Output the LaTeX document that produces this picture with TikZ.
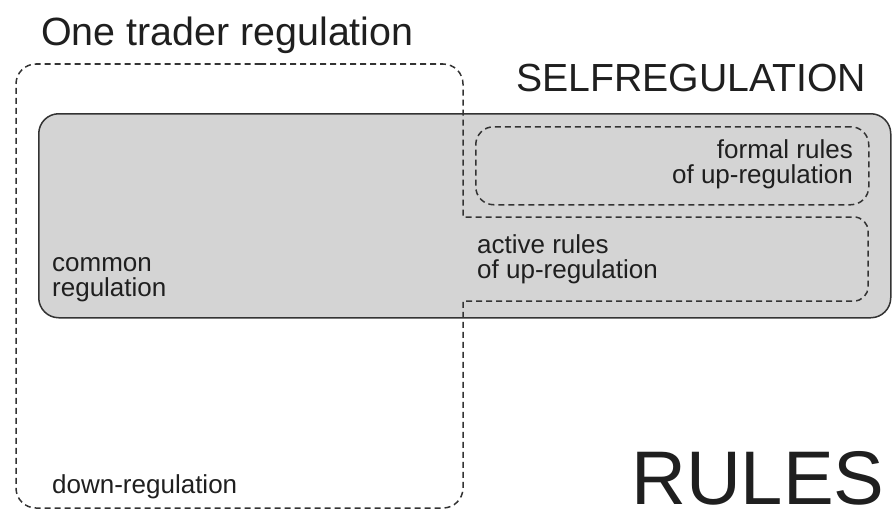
\documentclass[tikz,border=0pt]{standalone}
\usepackage{fontspec}
\setmainfont{Liberation Sans}
\usetikzlibrary{positioning}

\tikzset{
  region/.style={draw=black!80, line width=1.5pt, dash pattern=on 6pt off 4pt},
  selfbox/.style={draw=black!80, line width=1.5pt, fill=black!17,
    rounded corners=20pt, inner sep=0pt, anchor=north west},
  setlabel/.style={inner sep=0pt, text=black!88, align=left,
    font=\fontsize{26}{25}\selectfont},
  biglabel/.style={inner sep=0pt, text=black!88, anchor=base west}
}

\begin{document}
\begin{tikzpicture}[x=1pt, y=-1pt]
  \useasboundingbox (0,0) rectangle (896,511);

  % ── Self-regulation: the grey box ────────────────────────────
  \node[selfbox, minimum width=852pt, minimum height=204pt]
    (self) at (38,113) {};

  % ── Formal rules of up-regulation ────────────────────────────
  \node[region, rounded corners=18pt, inner sep=0pt, anchor=north west,
    minimum width=393pt, minimum height=78pt] (formal) at (475,126) {};

  % ── One trader regulation (with the active rules arm) ────────
  % (a corner takes the rounding of the segment that comes into it)
  \draw[region] (240,64) [rounded corners=20pt] -- (463,64)
    [sharp corners] -- (463,217)
    [rounded corners=14pt] -- (868,217) -- (868,301)
    [sharp corners] -- (463,301)
    [rounded corners=20pt] -- (463,508) -- (16,508) -- (16,64) -- cycle;

  % ── Labels ───────────────────────────────────────────────────
  \node[biglabel, font=\fontsize{39.4}{40}\selectfont]
    (trader) at (41,46) {One trader regulation};
  \node[biglabel, font=\fontsize{39.2}{40}\selectfont]
    (selfreg) at (516,91) {SELFREGULATION};
  \node[biglabel, font=\fontsize{76}{78}\selectfont]
    (rules) at (631,504) {RULES};

  % multi-line labels: base = baseline of the last line
  \node[setlabel, anchor=base east, align=right]
    (formaltxt) at (853,183) {formal rules\\of up-regulation};
  \node[setlabel, anchor=base west] (activetxt) at (477,278)
    {active rules\\of up-regulation};
  \node[setlabel, anchor=base west] (commontxt) at (52,296)
    {common\\regulation};
  \node[setlabel, anchor=base west] (downtxt) at (52,493)
    {down-regulation};

\end{tikzpicture}
\end{document}
